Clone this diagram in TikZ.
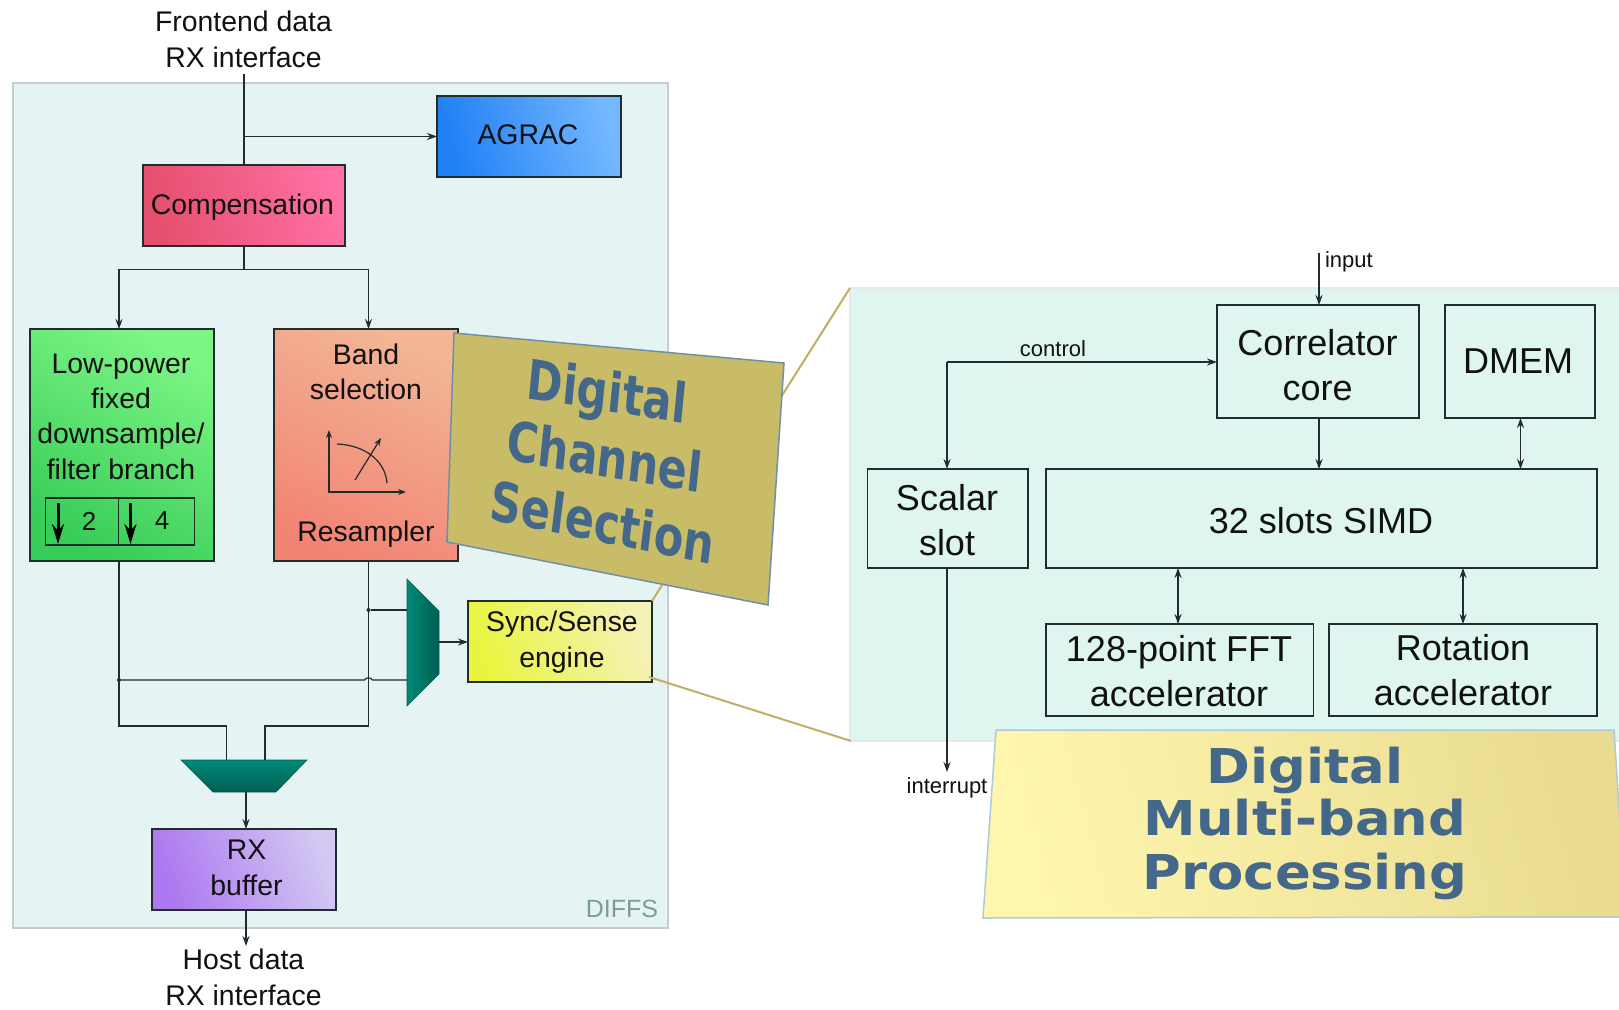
\documentclass[tikz,border=0pt]{standalone}
\usepackage{fontspec}
\setmainfont{Liberation Sans}
\newfontfamily\dvfont{DejaVu Sans}
\usetikzlibrary{arrows.meta}
\definecolor{ink}{HTML}{222C2C}
\definecolor{txt}{HTML}{111111}
\definecolor{goldline}{HTML}{BDB064}
\definecolor{titleblue}{HTML}{44688A}
\definecolor{tealA}{HTML}{008A7A}
\definecolor{tealB}{HTML}{005E50}
\definecolor{panelL}{HTML}{E5F4F3}
\definecolor{panelLb}{HTML}{C4CECE}
\definecolor{panelR}{HTML}{DFF5F0}
\definecolor{panelRb}{HTML}{E4EBEA}
\definecolor{difftxt}{HTML}{7A9C9C}
\definecolor{agA}{HTML}{2080F5}\definecolor{agB}{HTML}{74B8FF}
\definecolor{coA}{HTML}{E5506E}\definecolor{coB}{HTML}{FF70A4}
\definecolor{grA}{HTML}{38CC58}\definecolor{grB}{HTML}{7CF585}
\definecolor{orA}{HTML}{F28474}\definecolor{orB}{HTML}{F2B596}
\definecolor{syA}{HTML}{E8F540}\definecolor{syB}{HTML}{F5F2B5}
\definecolor{rxA}{HTML}{AD78F0}\definecolor{rxB}{HTML}{D2C8F2}
\definecolor{dcsfill}{HTML}{C8BC68}
\definecolor{dcsedge}{HTML}{6F8FA8}
\definecolor{dmpA}{HTML}{FFF6AE}\definecolor{dmpB}{HTML}{E9DC90}
\definecolor{dmpedge}{HTML}{AECAD8}
\tikzset{
  x=1pt,y=-1pt,
  blockbox/.style={draw=ink,line width=1.2pt,rectangle,inner sep=0pt,outer sep=0pt,anchor=north west,align=center,text=txt,font=\fontsize{28.4}{35}\selectfont},
  plainbox/.style={draw=ink,line width=1.2pt,rectangle,inner sep=0pt,outer sep=0pt,anchor=north west},
  bigtext/.style={inner sep=0pt,outer sep=0pt,align=center,text=txt,font=\fontsize{36}{45}\selectfont},
  grad/.style n args={3}{bottom color=#1,top color=#2,shading angle=#3},
  lbl/.style={inner sep=0pt,outer sep=0pt,align=center,text=txt,font=\fontsize{28.4}{35.4}\selectfont},
  small/.style={inner sep=0pt,outer sep=0pt,text=txt,font=\fontsize{22}{26}\selectfont},
  wire/.style={draw=ink,line width=1.2pt},
  arr/.style={wire,-{Stealth[length=10pt,width=7pt]}},
  darr/.style={wire,{Stealth[length=10pt,width=7pt]}-{Stealth[length=10pt,width=7pt]}},
  dotn/.style={circle,fill=ink,inner sep=0pt,minimum size=4pt},
  link/.style={draw=goldline,line width=2pt},
  dcstitle/.style={inner sep=0pt,text=titleblue,font=\dvfont\bfseries\fontsize{55}{60}\selectfont,xscale=.785,transform shape},
  dmptitle/.style={inner sep=0pt,text=titleblue,font=\dvfont\bfseries\fontsize{48}{55}\selectfont,xscale=1.1,transform shape},
  downthick/.style={draw=black,line width=3pt,-{Stealth[length=20pt,width=12pt]}},
}
\begin{document}
\begin{tikzpicture}
\useasboundingbox (0,0) rectangle (1619,1009);
\clip (0,0) rectangle (1619,1009);
\fill[white] (0,0) rectangle (1619,1009);
% panels
\node[rectangle,draw=panelLb,line width=1.5pt,fill=panelL,anchor=north west,inner sep=0pt,outer sep=0pt,minimum width=655pt,minimum height=845pt] (diffs) at (13,83) {};
\node[rectangle,draw=panelRb,line width=1.5pt,fill=panelR,anchor=north west,inner sep=0pt,outer sep=0pt,minimum width=780pt,minimum height=453pt] (dmpanel) at (850,288) {};
\node[text=difftxt,inner sep=0pt,font=\fontsize{25}{30}\selectfont] (difflabel) at (622,909) {DIFFS};

% left blocks
\node[blockbox,grad={agA}{agB}{-75},minimum width=184pt,minimum height=81pt] (agrac) at (437,96) {};
\node[lbl] (agtext) at (528,135) {AGRAC};
\node[blockbox,grad={coA}{coB}{-75},minimum width=202pt,minimum height=81pt] (comp) at (143,165) {};
\node[lbl] (cotext) at (242.5,207) {Compensation};
\node[blockbox,grad={grA}{grB}{-30},minimum width=184pt,minimum height=232pt] (green) at (30,329) {};
\node[lbl] (greentext) at (121,416.5) {Low-power\\fixed\\downsample/\\filter branch};
\node[blockbox,minimum width=73pt,minimum height=47pt] (dtwo) at (45.5,498) {};
\node[blockbox,minimum width=76pt,minimum height=47pt] (dfour) at (118.5,498) {};
\node[lbl,font=\fontsize{26}{30}\selectfont] (two) at (89,521) {2};
\node[lbl,font=\fontsize{26}{30}\selectfont] (four) at (162,521) {4};
\coordinate (da) at (58,503); \coordinate (db) at (58,544);
\coordinate (dc) at (130.5,503); \coordinate (dd) at (130.5,544);
\draw[downthick] (da) -- (db);
\draw[downthick] (dc) -- (dd);
\node[blockbox,grad={orA}{orB}{-25},minimum width=184pt,minimum height=232pt] (orange) at (274,329) {};
\node[lbl] (bandtext) at (366,372) {Band\\selection};
\node[lbl] (restext) at (366,534) {Resampler};
% small plot
\coordinate (oy) at (329,430); \coordinate (oo) at (329,492); \coordinate (ox) at (406,492);
\draw[wire,{Stealth[length=8pt,width=6pt]}-{Stealth[length=8pt,width=6pt]}] (oy) -- (oo) -- (ox);
\draw[wire] (337,444) .. controls (364,445) and (385,460) .. (387,483);
\draw[wire,-{Stealth[length=8pt,width=6pt]}] (355,480) -- (381,438);

\node[blockbox,grad={syA}{syB}{-70},minimum width=184pt,minimum height=81pt] (sync) at (468,601) {};
\node[lbl] (synctext) at (562,642) {Sync/Sense\\engine};
\node[blockbox,grad={rxA}{rxB}{-70},minimum width=184pt,minimum height=81pt] (rxb) at (152,829) {};
\node[lbl] (rxtext) at (246.5,868) {RX\\buffer};

% muxes
\shade[left color=tealA,right color=tealB,draw=tealB,line width=.6pt] (407,579) -- (439,611) -- (439,674) -- (407,706) -- cycle;
\shade[top color=tealA,bottom color=tealB,draw=tealB,line width=.6pt] (181,760) -- (307,760) -- (276,792) -- (213,792) -- cycle;
\coordinate (muxr) at (439,642);
\coordinate (muxb) at (246,792);

% links and callouts
\coordinate (panelTL) at (850,288);
\coordinate (panelBL) at (851,741);
\coordinate (syncTR) at (652,601);
\coordinate (syncBR) at (649,677);
\draw[link] (syncTR) -- (panelTL);
\draw[link] (syncBR) -- (panelBL);

% top texts and wires
\node[lbl] (frontend) at (243.5,39.5) {Frontend data\\RX interface};
\node[lbl] (host) at (243.5,977.5) {Host data\\RX interface};
\coordinate (topin) at (244,74);
\coordinate (agb) at (244,136.5);
\draw[wire] (topin) -- (comp.north);
\draw[arr] (agb) -- (agrac.west);
\coordinate (sp) at (244,269.5);
\coordinate (gx) at (119,300);
\coordinate (ox2) at (368.5,300);
\draw[wire] (comp.south) -- (sp);
\draw[arr] (sp) -| (gx |- green.north);
\draw[arr] (sp) -| (ox2 |- orange.north);
\node[dotn] (jg) at (119,680) {};
\node[dotn] (jo) at (368.5,610) {};
\coordinate (gb) at (119,726);
\coordinate (ob) at (368.5,726);
\coordinate (m1) at (226.5,760);
\coordinate (m2) at (265,760);
\draw[wire] (gx |- green.south) -- (gb) -| (m1);
\draw[wire] (ox2 |- orange.south) -- (ob) -| (m2);
\coordinate (mi1) at (407,610);
\coordinate (mi2) at (407,680);
\draw[wire] (jo) -- (mi1);
\draw[wire] (jg) -- (364.5,680) .. controls (366,677) and (371,677) .. (372.5,680) -- (mi2);
\draw[arr] (muxr) -- (sync.west |- muxr);
\draw[arr] (muxb) -- (muxb |- rxb.north);
\coordinate (hostarrow) at (246,946);
\draw[arr] (muxb |- rxb.south) -- (hostarrow);

% Digital Channel Selection
\draw[fill=dcsfill,draw=dcsedge,line width=1.5pt] (454,333) -- (784,363) -- (768,605) -- (447,542) -- cycle;
\node[dcstitle,rotate=-7] (dcsa) at (607,396) {Digital};
\node[dcstitle,rotate=-7.5] (dcsb) at (605,456) {Channel};
\node[dcstitle,rotate=-9] (dcsc) at (603,522) {Selection};

% right panel
\node[plainbox,minimum width=202pt,minimum height=113pt] (corr) at (1217,305) {};
\node[bigtext] (corrtext) at (1317.5,365) {Correlator\\core};
\node[plainbox,minimum width=150pt,minimum height=113pt] (dmem) at (1445,305) {};
\node[bigtext] (dmemtext) at (1518,361) {DMEM};
\node[plainbox,minimum width=551pt,minimum height=99pt] (simd) at (1046,469) {};
\node[bigtext] (simdtext) at (1321,521) {32 slots SIMD};
\node[plainbox,minimum width=160.5pt,minimum height=99pt] (scalar) at (867.5,469) {};
\node[bigtext] (scalartext) at (947,520.5) {Scalar\\slot};
\node[plainbox,minimum width=267.5pt,minimum height=92pt] (fft) at (1046,624) {};
\node[bigtext] (ffttext) at (1179,671) {128-point FFT\\accelerator};
\node[plainbox,minimum width=268pt,minimum height=92pt] (rot) at (1329,624) {};
\node[bigtext] (rottext) at (1463,670.5) {Rotation\\accelerator};
\coordinate (inp) at (1319,253);
\coordinate (ctrl) at (947,362);
\coordinate (intr) at (947,772);
\coordinate (xd) at (1520.5,440);
\coordinate (xf) at (1178,600);
\coordinate (xr) at (1463,600);
\draw[arr] (inp) -- (corr.north -| inp);
\draw[arr] (corr.south -| inp) -- (simd.north -| inp);
\draw[darr] (dmem.south -| xd) -- (simd.north -| xd);
\draw[darr] (simd.south -| xf) -- (fft.north -| xf);
\draw[darr] (simd.south -| xr) -- (rot.north -| xr);
\draw[arr] (ctrl) -- (corr.west |- ctrl);
\draw[arr] (ctrl) -- (scalar.north -| ctrl);
\draw[arr] (scalar.south -| ctrl) -- (intr);
\node[small,anchor=west] (inputl) at (1325,262) {input};
\node[small] (controll) at (1053,349) {control};
\node[small] (interruptl) at (947,788) {interrupt};

% Digital Multi-band Processing
\shade[bottom color=dmpA,top color=dmpB,shading angle=-75,draw=dmpedge,line width=1.5pt] (996,730) -- (1614,730) -- (1626,917) -- (983,918) -- cycle;
\node[dmptitle] (dmpa) at (1305,770) {Digital};
\node[dmptitle] (dmpb) at (1305,818) {Multi-band};
\node[dmptitle] (dmpc) at (1305,876) {Processing};
\end{tikzpicture}
\end{document}
